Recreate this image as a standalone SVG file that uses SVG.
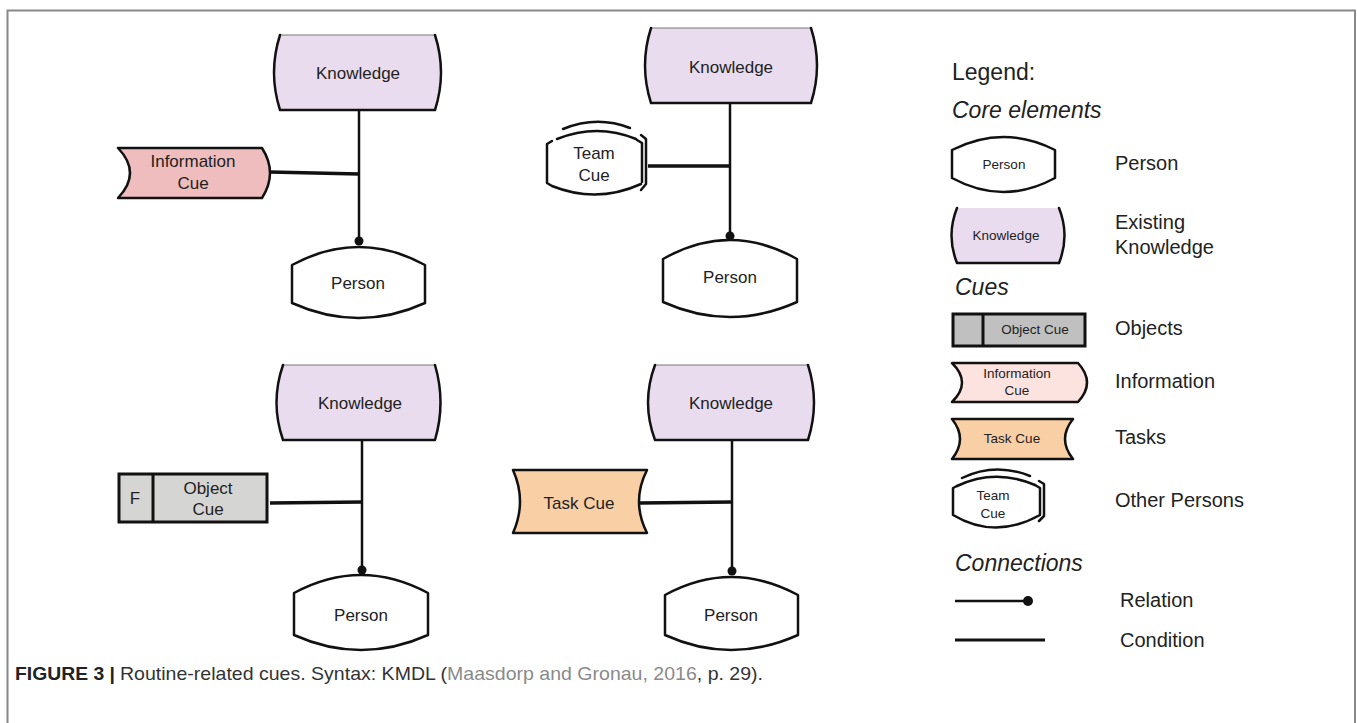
<svg xmlns="http://www.w3.org/2000/svg" width="1357" height="723" viewBox="0 0 1357 723">
<style>
text{font-family:"Liberation Sans",Arial,sans-serif;fill:#222;dominant-baseline:central}
.t{font-size:17px;text-anchor:middle}
.s{font-size:13.5px;text-anchor:middle}
.h{font-size:23px;font-style:italic}
.l{font-size:20px}
.ol{fill:none;stroke:#111;stroke-width:2.5;stroke-linejoin:round;stroke-linecap:round}
.thin{fill:none;stroke:#777;stroke-width:1}
.kf{fill:#e9dcee;stroke:none}
.pf{fill:#fff;stroke:#111;stroke-width:2.5;stroke-linejoin:round}
.rel{stroke:#111;stroke-width:2.5;fill:none}
.cond{stroke:#111;stroke-width:3.5;fill:none}
.dot{fill:#111}
</style>
<!-- frame -->
<path d="M7.5,723 V10.5 H1355 V723" fill="none" stroke="#888" stroke-width="2"/>

<!-- connectors -->
<g id="connectors">
<line class="rel" x1="359" y1="110" x2="359" y2="241"/><circle class="dot" cx="359" cy="241" r="4.5"/>
<line class="cond" x1="270" y1="172" x2="359" y2="174"/>
<line class="rel" x1="730" y1="103" x2="730" y2="236"/><circle class="dot" cx="730" cy="236" r="4.5"/>
<line class="cond" x1="648" y1="166" x2="730" y2="166"/>
<line class="rel" x1="362" y1="440" x2="362" y2="570"/><circle class="dot" cx="362" cy="570" r="4.5"/>
<line class="cond" x1="270" y1="503" x2="362" y2="502"/>
<line class="rel" x1="732" y1="440" x2="732" y2="571"/><circle class="dot" cx="732" cy="571" r="4.5"/>
<line class="cond" x1="640" y1="503" x2="732" y2="502"/>
</g>

<!-- Panel 1 -->
<g id="k1">
<path class="kf" d="M280,35 H435 Q447,72.5 435,110 H280 Q268,72.5 280,35 Z"/>
<path class="thin" d="M280,35 H435"/>
<path class="ol" d="M280,35 Q268,72.5 280,110 H435 Q447,72.5 435,35"/>
<text class="t" x="358" y="73">Knowledge</text>
</g>
<g id="info1">
<path d="M118,148 H262 Q278,173 262,198 H118 Q142,173 118,148 Z" fill="#efbdbd" stroke="#111" stroke-width="2.5" stroke-linejoin="round"/>
<text class="t" x="193" y="161">Information</text>
<text class="t" x="193" y="183">Cue</text>
</g>
<g id="p1">
<path class="pf" d="M292,265 Q359,229 425,265 V303 Q359,333 292,303 Z"/>
<text class="t" x="358" y="283">Person</text>
</g>

<!-- Panel 2 -->
<g id="k2">
<path class="kf" d="M651,28 H811 Q823,65.5 811,103 H651 Q639,65.5 651,28 Z"/>
<path class="thin" d="M651,28 H811"/>
<path class="ol" d="M651,28 Q639,65.5 651,103 H811 Q823,65.5 811,28"/>
<text class="t" x="731" y="67">Knowledge</text>
</g>
<g id="team2">
<path d="M553,141 Q597,124 638,141 L642,144 V183 Q597,206 548,184 V144 Z" fill="#fff" stroke="none"/>
<path class="ol" d="M552,141 L547,144 V183 L552,186 Q597,204 641,184"/>
<path class="ol" d="M557,139 Q597,123 636,139"/>
<path class="ol" d="M563,129 Q597,115 630,128"/>
<path class="ol" d="M637,140 L642,143 V182"/>
<path class="ol" d="M641,135 L646,139 V184 L641,190"/>
<text class="t" x="594" y="153">Team</text>
<text class="t" x="594" y="175">Cue</text>
</g>
<g id="p2">
<path class="pf" d="M663,259 Q730,221 797,259 V302 Q730,332 663,302 Z"/>
<text class="t" x="730" y="277">Person</text>
</g>

<!-- Panel 3 -->
<g id="k3">
<path class="kf" d="M283,365 H435 Q446,402.5 435,440 H283 Q270,402.5 283,365 Z"/>
<path class="thin" d="M283,365 H435"/>
<path class="ol" d="M283,365 Q270,402.5 283,440 H435 Q446,402.5 435,365"/>
<text class="t" x="360" y="403">Knowledge</text>
</g>
<g id="obj3">
<rect x="119" y="474" width="148" height="48" fill="#d5d5d3" stroke="#111" stroke-width="3"/>
<line x1="153" y1="474" x2="153" y2="522" stroke="#111" stroke-width="3"/>
<text class="t" x="135" y="498">F</text>
<text class="t" x="208" y="488">Object</text>
<text class="t" x="208" y="509">Cue</text>
</g>
<g id="p3">
<path class="pf" d="M294,593 Q361,557 428,593 V635 Q361,665 294,635 Z"/>
<text class="t" x="361" y="615">Person</text>
</g>

<!-- Panel 4 -->
<g id="k4">
<path class="kf" d="M655,365 H808 Q820,402.5 808,440 H655 Q641,402.5 655,365 Z"/>
<path class="thin" d="M655,365 H808"/>
<path class="ol" d="M655,365 Q641,402.5 655,440 H808 Q820,402.5 808,365"/>
<text class="t" x="731" y="403">Knowledge</text>
</g>
<g id="task4">
<path d="M513,470 H647 Q631,501.5 647,533 H513 Q527,501.5 513,470 Z" fill="#f9cfa6" stroke="#111" stroke-width="2.5" stroke-linejoin="round"/>
<text class="t" x="579" y="503">Task Cue</text>
</g>
<g id="p4">
<path class="pf" d="M665,595 Q731,559 798,595 V635 Q731,665 665,635 Z"/>
<text class="t" x="731" y="615">Person</text>
</g>

<!-- Legend -->
<g id="legend">
<text x="952" y="72" style="font-size:23px">Legend:</text>
<text class="h" x="952" y="110">Core elements</text>
<g id="leg-person">
<path class="pf" d="M952,150 Q1003.5,124 1055,150 V178 Q1003.5,206 952,178 Z"/>
<text class="s" x="1004" y="164">Person</text>
</g>
<text class="l" x="1115" y="163">Person</text>
<g id="leg-knowledge">
<path class="kf" d="M957,208 H1059 Q1070,235.5 1059,263 H957 Q946,235.5 957,208 Z"/>
<path class="ol" d="M957,208 Q946,235.5 957,263 H1059"/>
<path class="ol" d="M1059,208 Q1070,235.5 1059,263"/>
<text class="s" x="1006" y="235">Knowledge</text>
</g>
<text class="l" x="1115" y="222">Existing</text>
<text class="l" x="1115" y="247">Knowledge</text>
<text class="h" x="955" y="287">Cues</text>
<g id="leg-object">
<rect x="953" y="314" width="132" height="32" fill="#c0c0c0" stroke="#111" stroke-width="3"/>
<line x1="983" y1="314" x2="983" y2="346" stroke="#111" stroke-width="3"/>
<text class="s" x="1035" y="329">Object Cue</text>
</g>
<text class="l" x="1115" y="328">Objects</text>
<g id="leg-info">
<path d="M952,363 H1078 Q1096,382.5 1078,402 H952 Q972,382.5 952,363 Z" fill="#fde3df" stroke="#111" stroke-width="2.5" stroke-linejoin="round"/>
<text class="s" x="1017" y="373">Information</text>
<text class="s" x="1017" y="390">Cue</text>
</g>
<text class="l" x="1115" y="381">Information</text>
<g id="leg-task">
<path d="M952,419 H1073 Q1057,439 1073,459 H952 Q968,439 952,419 Z" fill="#f9cfa6" stroke="#111" stroke-width="2.5" stroke-linejoin="round"/>
<text class="s" x="1012" y="438">Task Cue</text>
</g>
<text class="l" x="1115" y="437">Tasks</text>
<g id="leg-team">
<path d="M956,485 Q995,470 1036,485 L1040,488 V515 Q995,540 953,515 V488 Z" fill="#fff" stroke="none"/>
<path class="ol" d="M957,486 L953,488 V515 Q995,540 1040,515"/>
<path class="ol" d="M957,486 Q995,468 1035,485"/>
<path class="ol" d="M962,478 Q995,462 1030,476"/>
<path class="ol" d="M1035,485 L1040,488 V514"/>
<path class="ol" d="M1039,481 L1044,484 V516 L1039,521"/>
<text class="s" x="993" y="495">Team</text>
<text class="s" x="993" y="513">Cue</text>
</g>
<text class="l" x="1115" y="500">Other Persons</text>
<text class="h" x="955" y="563">Connections</text>
<g id="leg-relation">
<line x1="955" y1="601" x2="1027" y2="601" stroke="#111" stroke-width="2.5"/>
<circle class="dot" cx="1028" cy="601" r="5"/>
</g>
<text class="l" x="1120" y="600">Relation</text>
<g id="leg-condition">
<line x1="955" y1="640" x2="1045" y2="640" stroke="#111" stroke-width="3"/>
</g>
<text class="l" x="1120" y="640">Condition</text>
</g>

<!-- caption -->
<g id="caption">
<text x="15" y="673" style="font-size:19px;font-weight:bold" textLength="100" lengthAdjust="spacingAndGlyphs">FIGURE 3 |</text>
<text x="120" y="673" style="font-size:19px;fill:#333" textLength="643" lengthAdjust="spacingAndGlyphs">Routine-related cues. Syntax: KMDL (<tspan style="fill:#8a8a8a">Maasdorp and Gronau, 2016</tspan>, p. 29).</text>
</g>
</svg>
